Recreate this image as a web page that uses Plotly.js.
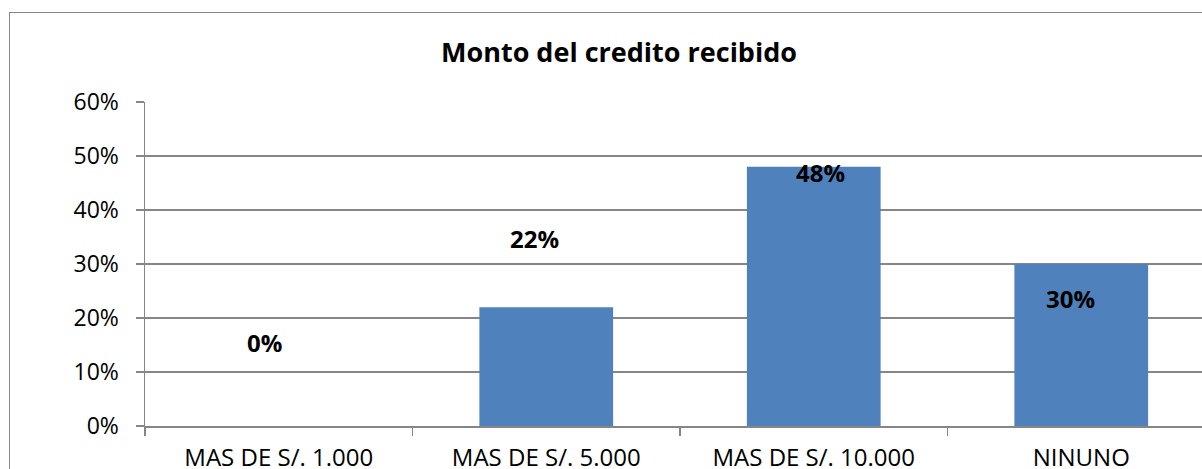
<!DOCTYPE html>
<html>
<head>
<meta charset="utf-8">
<script src="https://cdn.plot.ly/plotly-3.0.1.min.js"></script>
<style>
html,body{margin:0;padding:0;overflow:hidden;background:#fff;width:1202px;height:469px;}
#chart{position:absolute;left:0;top:0;width:1240px;height:500px;}
#frame{position:absolute;left:9px;top:12px;width:1216px;height:500px;border:1.5px solid #868686;pointer-events:none;box-sizing:border-box;}
</style>
</head>
<body>
<div id="chart"></div>
<div id="frame"></div>
<script>
const categories = ["MAS DE S/. 1.000", "MAS DE S/. 5.000", "MAS DE S/. 10.000", "NINUNO"];
const values = [0.00, 0.22, 0.48, 0.30];
const labels = ["0%", "22%", "48%", "30%"];
const yTickVals = [0, 0.1, 0.2, 0.3, 0.4, 0.5, 0.6];

const labelShiftX = [-14, -12, 7, -11];
const labelShiftY = [84, 69, -6, -34];

const font = "'Open Sans', Carlito, Calibri, sans-serif";

const annotations = categories.map((c, i) => ({
  x: c, y: values[i], xref: 'x', yref: 'y',
  text: '<b>' + labels[i] + '</b>', showarrow: false,
  xshift: labelShiftX[i], yshift: labelShiftY[i],
  font: {family: font, size: 24, color: '#000'}
}));

const data = [{
  type: 'bar',
  x: categories,
  y: values,
  width: 0.5,
  marker: {color: '#4F81BD', line: {width: 0}},
  hoverinfo: 'none'
}];

const layout = {
  width: 1240, height: 500,
  margin: {l: 145, r: 25, t: 102, b: 74, pad: 0},
  paper_bgcolor: '#fff', plot_bgcolor: '#fff',
  showlegend: false,
  title: {
    text: '<b>Monto del credito recibido</b>',
    x: 619/1240, xanchor: 'center', y: 1 - 53/500, yanchor: 'middle',
    font: {family: font, size: 27, color: '#000'}
  },
  xaxis: {
    type: 'category',
    tickson: 'boundaries',
    ticks: 'outside', ticklen: 8, tickwidth: 1.5, tickcolor: '#868686',
    showline: true, linecolor: '#868686', linewidth: 1.5,
    showgrid: false, zeroline: false,
    ticklabelstandoff: 10,
    tickfont: {family: font, size: 24, color: '#000'},
    range: [-0.5, 3.5], fixedrange: true
  },
  yaxis: {
    range: [0, 0.6], tickvals: yTickVals, tickformat: '.0%',
    ticks: 'outside', ticklen: 8, tickwidth: 1.5, tickcolor: '#868686',
    showline: true, linecolor: '#868686', linewidth: 1.5,
    showgrid: true, gridcolor: '#868686', gridwidth: 1.5,
    zeroline: false,
    ticklabelstandoff: 12,
    tickfont: {family: font, size: 23, color: '#000'},
    fixedrange: true
  },
  annotations: annotations
};

Plotly.newPlot('chart', data, layout, {displayModeBar: false, staticPlot: true});
</script>
</body>
</html>
